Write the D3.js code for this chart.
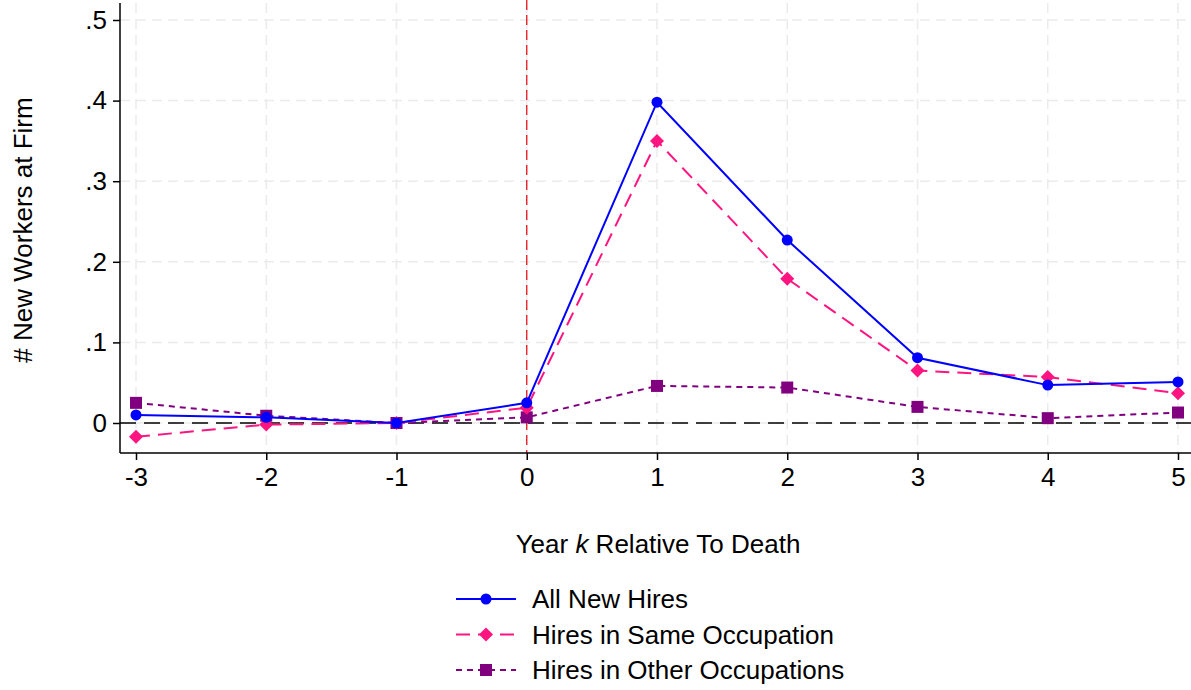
<!DOCTYPE html>
<html>
<head>
<meta charset="utf-8">
<script src="https://cdn.jsdelivr.net/npm/d3@7"></script>
<style>
  body { margin: 0; background: #fff; }
  svg { font-family: "Liberation Sans", Arial, Helvetica, sans-serif; }
</style>
</head>
<body>
<svg id="chart" width="1191" height="690"></svg>
<script>
const years = [-3, -2, -1, 0, 1, 2, 3, 4, 5];
const allHires = [0.010, 0.007, 0.000, 0.025, 0.398, 0.227, 0.081, 0.047, 0.051];
const sameOcc = [-0.017, -0.002, 0.000, 0.019, 0.350, 0.179, 0.065, 0.057, 0.037];
const otherOcc = [0.025, 0.009, 0.000, 0.007, 0.046, 0.044, 0.020, 0.006, 0.013];
const yTicks = [0, 0.1, 0.2, 0.3, 0.4, 0.5];

const svg = d3.select("#chart");

const plotLeft = 120, plotRight = 1191, plotTop = 3, plotBottom = 453;

const x = d3.scaleLinear().domain([-3, 5]).range([136, 1178]);
const y = d3.scaleLinear().domain([0, 0.5]).range([423, 20]);

const fmt = (d) => (d === 0 ? "0" : d3.format(".1f")(d).replace(/^0/, ""));

// grid
svg.append("g")
  .selectAll("line")
  .data(yTicks)
  .enter()
  .append("line")
  .attr("x1", plotLeft)
  .attr("x2", plotRight)
  .attr("y1", (d) => y(d))
  .attr("y2", (d) => y(d))
  .attr("stroke", "#ebebeb")
  .attr("stroke-width", 1.5)
  .attr("stroke-dasharray", "10,6");

svg.append("g")
  .selectAll("line")
  .data(years)
  .enter()
  .append("line")
  .attr("x1", (d) => x(d))
  .attr("x2", (d) => x(d))
  .attr("y1", plotTop)
  .attr("y2", plotBottom)
  .attr("stroke", "#ebebeb")
  .attr("stroke-width", 1.5)
  .attr("stroke-dasharray", "10,6");

// reference lines
svg.append("line")
  .attr("x1", plotLeft).attr("x2", plotRight)
  .attr("y1", y(0)).attr("y2", y(0))
  .attr("stroke", "#000")
  .attr("stroke-width", 1.3)
  .attr("stroke-dasharray", "16,8");

svg.append("line")
  .attr("x1", x(0)).attr("x2", x(0))
  .attr("y1", 0).attr("y2", plotBottom)
  .attr("stroke", "#e8141c")
  .attr("stroke-width", 1.3)
  .attr("stroke-dasharray", "10,5");

// axes
const yAxis = svg.append("g")
  .attr("transform", `translate(${plotLeft},0)`)
  .call(d3.axisLeft(y).tickValues(yTicks).tickFormat(fmt).tickSize(7).tickPadding(6));
yAxis.select(".domain").remove();
yAxis.append("line").attr("x1", 0).attr("x2", 0).attr("y1", plotTop).attr("y2", plotBottom)
  .attr("stroke", "#000").attr("stroke-width", 1.5);

const xAxis = svg.append("g")
  .attr("transform", `translate(0,${plotBottom})`)
  .call(d3.axisBottom(x).tickValues(years).tickFormat((d) => String(d)).tickSize(7).tickPadding(8));
xAxis.select(".domain").remove();
xAxis.append("line").attr("x1", plotLeft).attr("x2", plotRight).attr("y1", 0).attr("y2", 0)
  .attr("stroke", "#000").attr("stroke-width", 1.5);

svg.selectAll(".tick line").attr("stroke", "#000").attr("stroke-width", 1.5);
svg.selectAll(".tick text").attr("font-size", 26).attr("fill", "#000")
  .attr("font-family", "Liberation Sans, Arial, sans-serif");

// titles
svg.append("text")
  .attr("transform", "translate(32,230) rotate(-90)")
  .attr("text-anchor", "middle")
  .attr("font-size", 26)
  .text("# New Workers at Firm");

const xt = svg.append("text")
  .attr("x", 658).attr("y", 553)
  .attr("text-anchor", "middle")
  .attr("font-size", 26);
xt.append("tspan").text("Year ");
xt.append("tspan").attr("font-style", "italic").text("k");
xt.append("tspan").text(" Relative To Death");

// series
const series = [
  { name: "All New Hires", values: allHires, color: "#0000ff", dash: null, shape: "circle" },
  { name: "Hires in Same Occupation", values: sameOcc, color: "#ff1480", dash: "14,8", shape: "diamond" },
  { name: "Hires in Other Occupations", values: otherOcc, color: "#800080", dash: "6,5", shape: "square" },
];

const line = d3.line().x((d) => x(d[0])).y((d) => y(d[1]));

function drawMarker(g, shape, color, cx, cy) {
  if (shape === "circle") {
    g.append("circle").attr("cx", cx).attr("cy", cy).attr("r", 5.5).attr("fill", color);
  } else if (shape === "diamond") {
    const s = 7;
    g.append("path")
      .attr("d", `M${cx},${cy - s}L${cx + s},${cy}L${cx},${cy + s}L${cx - s},${cy}Z`)
      .attr("fill", color);
  } else {
    g.append("rect").attr("x", cx - 6).attr("y", cy - 6).attr("width", 12).attr("height", 12)
      .attr("fill", color);
  }
}

series.slice().reverse().forEach((s) => {
  const pts = years.map((yr, i) => [yr, s.values[i]]);
  const g = svg.append("g");
  g.append("path")
    .attr("d", line(pts))
    .attr("fill", "none")
    .attr("stroke", s.color)
    .attr("stroke-width", 2)
    .attr("stroke-dasharray", s.dash);
  pts.forEach((p) => drawMarker(g, s.shape, s.color, x(p[0]), y(p[1])));
});

// legend
series.forEach((s, i) => {
  const ly = 599 + i * 35.5;
  const g = svg.append("g");
  g.append("line")
    .attr("x1", 456).attr("x2", 516)
    .attr("y1", ly).attr("y2", ly)
    .attr("stroke", s.color)
    .attr("stroke-width", 2)
    .attr("stroke-dasharray", s.dash);
  drawMarker(g, s.shape, s.color, 486, ly);
  g.append("text")
    .attr("x", 532).attr("y", ly + 9)
    .attr("font-size", 26)
    .text(s.name);
});
</script>
</body>
</html>
